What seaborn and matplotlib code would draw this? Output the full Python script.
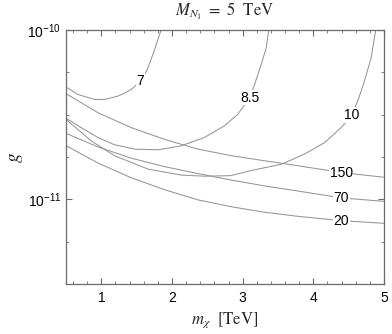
import numpy as np
import pandas as pd
import seaborn as sns
import matplotlib
matplotlib.use('Agg')
import matplotlib.pyplot as plt
from matplotlib.ticker import FixedLocator, NullFormatter, MultipleLocator

# contour values: m_chi [TeV] and g (units of 1e-11)
m_7 = [0.504, 0.668, 0.905, 1.046, 1.234, 1.350, 1.424, 1.490, 1.55, 1.612, 1.650, 1.729, 1.800, 1.845]
g_7 = [4.60, 4.16, 3.89, 3.89, 4.07, 4.28, 4.46, 4.72, 5.01, 5.46, 5.85, 7.16, 8.77, 10.0]

m_85 = [0.504, 0.716, 0.951, 1.187, 1.470, 1.800, 2.131, 2.460, 2.743, 2.931, 3.097, 3.168, 3.262, 3.333, 3.37]
g_85 = [3.01, 2.65, 2.32, 2.10, 1.98, 1.96, 2.07, 2.32, 2.72, 3.18, 3.98, 4.76, 6.25, 7.83, 10.0]

m_10 = [0.504, 0.858, 1.187, 1.658, 2.131, 2.460, 2.828, 3.121, 3.545, 3.875, 4.158, 4.394,
        4.535, 4.629, 4.723, 4.818, 4.883]
g_10 = [2.96, 2.21, 1.81, 1.51, 1.39, 1.37, 1.38, 1.48, 1.61, 1.85, 2.16, 2.65,
        3.10, 3.81, 4.99, 6.84, 10.0]

m_line = [0.504, 0.951, 1.424, 1.895, 2.366, 2.838, 3.309, 3.780, 4.394, 5.0]
g_150 = [4.20, 3.25, 2.65, 2.26, 1.98, 1.81, 1.69, 1.58, 1.44, 1.35]
g_70 = [2.45, 2.04, 1.75, 1.56, 1.42, 1.30, 1.20, 1.12, 1.02, 0.973]
g_20 = [2.07, 1.64, 1.34, 1.14, 0.993, 0.904, 0.839, 0.794, 0.748, 0.722]

labels = ['7', '8.5', '10', '150', '70', '20']
label_m = [1.55, 3.097, 4.544, 4.394, 4.394, 4.394]
label_g = [5.01, 3.98, 3.15, 1.44, 1.02, 0.74]

frames = []
for lab, m, g in [('7', m_7, g_7), ('8.5', m_85, g_85), ('10', m_10, g_10),
                  ('150', m_line, g_150), ('70', m_line, g_70), ('20', m_line, g_20)]:
    frames.append(pd.DataFrame({'m': m, 'g': np.array(g) * 1e-11, 'level': lab}))
df = pd.concat(frames, ignore_index=True)

sns.set_style('ticks')
plt.rcParams['font.family'] = ['Liberation Sans', 'DejaVu Sans']
plt.rcParams['mathtext.fontset'] = 'stix'

fig = plt.figure(figsize=(3.92, 3.34), dpi=100)
ax = fig.add_axes([66 / 392, 1 - 284 / 334, 318 / 392, 254 / 334])

line_col = '#959595'
sns.lineplot(data=df, x='m', y='g', hue='level', palette={l: line_col for l in labels},
             sort=False, estimator=None, legend=False, linewidth=0.75, ax=ax)

for lab, xm, yg in zip(labels, label_m, label_g):
    ax.text(xm, yg * 1e-11, lab, fontsize=10, ha='center', va='center', color='black',
            bbox=dict(facecolor='white', edgecolor='none', pad=0.5))

ax.set_yscale('log')
ax.set_xlim(0.5, 5)
ax.set_ylim(10 ** -11.5, 1e-10)
ax.yaxis.set_major_locator(FixedLocator([1e-11, 1e-10]))
ax.yaxis.set_minor_locator(FixedLocator([10 ** v for v in [-10.25, -10.5, -10.75, -11.25]]))
ax.yaxis.set_minor_formatter(NullFormatter())
ax.xaxis.set_major_locator(MultipleLocator(1))
ax.xaxis.set_minor_locator(MultipleLocator(0.2))

frame_col = '#6a6a6a'
for sp in ax.spines.values():
    sp.set_color(frame_col)
    sp.set_linewidth(0.9)
ax.tick_params(which='both', direction='in', top=True, right=True, color=frame_col,
               labelsize=10, labelcolor='black')
ax.tick_params(which='major', length=4, width=0.8)
ax.tick_params(which='minor', length=2.2, width=0.6)
ax.tick_params(axis='x', which='major', pad=5)

ax.set_xlabel(r'$m_\chi\ \ [\mathrm{TeV}]$', fontsize=12, labelpad=4)
ax.set_ylabel(r'$g$', fontsize=14, labelpad=2)
ax.set_title(r'$M_{N_1}\ =\ 5\ \ \mathrm{TeV}$', fontsize=12, pad=10)

fig.savefig('out.png', dpi=100)
